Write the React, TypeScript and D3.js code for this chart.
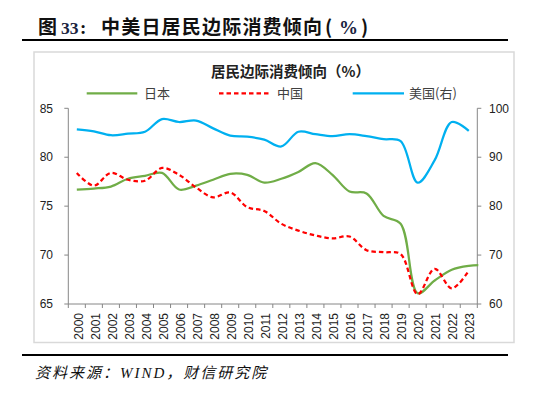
import React from "react";
import * as d3 from "d3";

const years = ["2000","2001","2002","2003","2004","2005","2006","2007","2008","2009","2010","2011","2012","2013","2014","2015","2016","2017","2018","2019","2020","2021","2022","2023"];
// Japan series runs one point past the last labelled year (clipped at the plot edge)
const japan = [76.7, 76.8, 77.0, 77.8, 78.1, 78.4, 76.7, 77.1, 77.7, 78.3, 78.2, 77.4, 77.8, 78.5, 79.4, 78.2, 76.5, 76.3, 74.0, 73.2, 66.1, 67.4, 68.5, 68.9, 69.0];
const china = [78.4, 77.1, 78.4, 77.7, 77.6, 78.9, 78.2, 76.9, 75.9, 76.4, 74.9, 74.5, 73.2, 72.5, 72.0, 71.7, 71.9, 70.5, 70.3, 70.1, 66.0, 68.6, 66.6, 68.4];
const usa = [95.7, 95.3, 94.5, 94.8, 95.2, 97.8, 97.2, 97.5, 95.9, 94.4, 94.2, 93.6, 92.2, 95.2, 94.7, 94.3, 94.7, 94.3, 93.7, 93.3, 84.8, 89.4, 97.2, 95.4];
const leftTicks = [65, 70, 75, 80, 85];
const rightTicks = [60, 70, 80, 90, 100];
const legendLabels = ["日本", "中国", "美国(右)"];

const W = 538, H = 396;
const PL = 68.3, PR = 477.3, PT = 108.3, PB = 304;

export default function App() {
  const x = d3.scaleBand<number>().domain(d3.range(years.length)).range([PL, PR]).padding(0);
  const cx = (i: number) => PL + x.step() * (i + 0.5);
  const yL = d3.scaleLinear().domain([65, 85]).range([PB, PT]);
  const yR = d3.scaleLinear().domain([60, 100]).range([PB, PT]);

  const lineL = d3.line<number>().x((_, i) => cx(i)).y((v) => yL(v)).curve(d3.curveCatmullRom.alpha(0.5));
  const lineR = d3.line<number>().x((_, i) => cx(i)).y((v) => yR(v)).curve(d3.curveCatmullRom.alpha(0.5));

  const axisColor = "#868686";
  const tickFont = "'Liberation Sans', Arial, sans-serif";
  const cjk = "'Noto Sans CJK SC', sans-serif";
  const serif = "'Liberation Serif', 'Times New Roman', serif";

  const legend = [
    { label: legendLabels[0], color: "#70ad47", dash: undefined as string | undefined, x1: 86.7, x2: 137.3, tx: 144 },
    { label: legendLabels[1], color: "#ff0000", dash: "4.5,3", x1: 219, x2: 271, tx: 277 },
    { label: legendLabels[2], color: "#00b0f0", dash: undefined, x1: 352.7, x2: 404, tx: 409 },
  ];

  return (
    <svg width={W} height={H} style={{ position: "absolute", left: 0, top: 0, background: "#fff" }}>
      <defs>
        <clipPath id="plotClip">
          <rect x={PL} y={PT - 20} width={PR - PL + 1} height={PB - PT + 40} />
        </clipPath>
      </defs>
      {/* Title */}
      <text y={34} fontWeight="bold" fontSize={19} fill="#111" fontFamily={cjk}>
        <tspan x={38}>图</tspan>
        <tspan x={61} fontFamily={serif} fontSize={17.5} fill="#1a2340">33</tspan>
        <tspan x={80} fontFamily={serif}>:</tspan>
        <tspan x={101} letterSpacing={1.2}>中美日居民边际消费倾向</tspan>
        <tspan x={325}>(</tspan>
        <tspan x={339} fontFamily={serif} fontSize={19} fill="#1a2340">%</tspan>
        <tspan x={361}>)</tspan>
      </text>
      <rect x={22} y={39} width={486} height={2} fill="#000" />

      {/* chart frame */}
      <rect x={34} y={52} width={480} height={290.5} fill="none" stroke="#d9d9d9" strokeWidth={1.5} />

      {/* chart title */}
      <text x={290.5} y={77} textAnchor="middle" fontFamily={cjk} fontWeight="bold" fontSize={14.5} fill="#222">居民边际消费倾向（%）</text>

      {/* legend */}
      {legend.map((l) => (
        <g key={l.label}>
          <line x1={l.x1} x2={l.x2} y1={93.3} y2={93.3} stroke={l.color} strokeWidth={2.25} strokeDasharray={l.dash} />
          <text x={l.tx} y={93.3} dy="0.36em" fontFamily={cjk} fontSize={13} fill="#404040">{l.label}</text>
        </g>
      ))}

      {/* left axis */}
      <line x1={PL} x2={PL} y1={PT} y2={PB} stroke={axisColor} strokeWidth={1} />
      {leftTicks.map((t) => (
        <g key={"l" + t}>
          <line x1={PL - 4} x2={PL} y1={yL(t)} y2={yL(t)} stroke={axisColor} />
          <text x={53} y={yL(t)} dy="0.35em" textAnchor="end" fontFamily={tickFont} fontSize={12} fill="#222">{t}</text>
        </g>
      ))}

      {/* right axis */}
      <line x1={PR} x2={PR} y1={PT} y2={PB} stroke={axisColor} strokeWidth={1} />
      {rightTicks.map((t) => (
        <g key={"r" + t}>
          <line x1={PR} x2={PR + 4} y1={yR(t)} y2={yR(t)} stroke={axisColor} />
          <text x={489} y={yR(t)} dy="0.35em" textAnchor="start" fontFamily={tickFont} fontSize={12} fill="#222">{t}</text>
        </g>
      ))}

      {/* x axis */}
      <line x1={PL} x2={PR} y1={PB} y2={PB} stroke={axisColor} strokeWidth={1} />
      {d3.range(years.length + 1).map((i) => (
        <line key={"xt" + i} x1={PL + x.step() * i} x2={PL + x.step() * i} y1={PB} y2={PB + 4} stroke={axisColor} />
      ))}
      {years.map((yr, i) => (
        <text key={yr} transform={`translate(${cx(i) + 1.5},313) rotate(-90)`} dy="0.35em" textAnchor="end" fontFamily={tickFont} fontSize={12} fill="#222">{yr}</text>
      ))}

      {/* series */}
      <g clipPath="url(#plotClip)" fill="none" strokeWidth={2.25} strokeLinejoin="round">
        <path d={lineR(usa) || ""} stroke="#00b0f0" />
        <path d={lineL(japan) || ""} stroke="#70ad47" />
        <path d={lineL(china) || ""} stroke="#ff0000" strokeDasharray="4.5,3" />
      </g>

      {/* source */}
      <rect x={22} y={354} width={486} height={2} fill="#000" />
      <text x={35} y={378} fontFamily={cjk} fontStyle="italic" fontSize={15} letterSpacing={2} fill="#111">
        资料来源：<tspan fontFamily={serif} fontSize={15}>WIND</tspan>，财信研究院
      </text>
    </svg>
  );
}
